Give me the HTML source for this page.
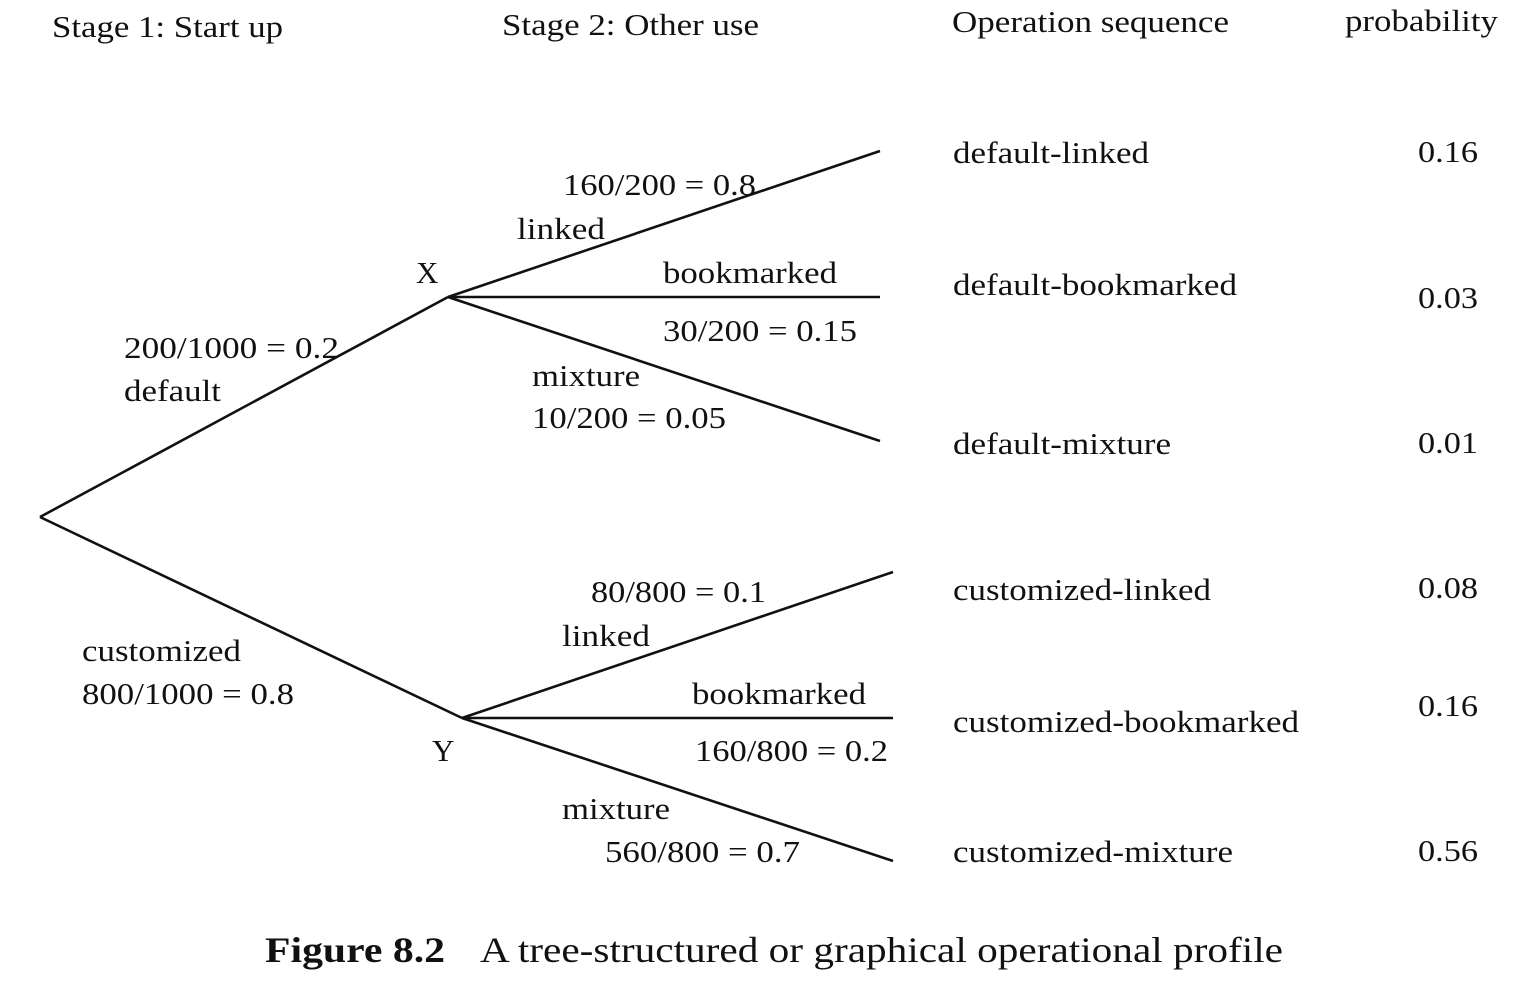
<!DOCTYPE html>
<html><head><meta charset="utf-8"><style>
html,body{margin:0;padding:0;background:#fff;}
svg{display:block;}
text{font-family:"Liberation Serif",serif;font-size:31px;fill:#111;}
</style></head><body>
<svg id="chart" width="1518" height="986" viewBox="0 0 1518 986">
<g id="headers">
<text x="52" y="37" textLength="231" lengthAdjust="spacingAndGlyphs">Stage 1: Start up</text>
<text x="502" y="35" textLength="257" lengthAdjust="spacingAndGlyphs">Stage 2: Other use</text>
<text x="952" y="32" textLength="277" lengthAdjust="spacingAndGlyphs">Operation sequence</text>
<text x="1345" y="31" textLength="153" lengthAdjust="spacingAndGlyphs">probability</text>
</g>
<g id="edges"></g>
<g id="labels">
<text x="416" y="283">X</text>
<text x="432" y="761">Y</text>
<text x="124" y="358" textLength="215" lengthAdjust="spacingAndGlyphs">200/1000 = 0.2</text>
<text x="124" y="401" textLength="97" lengthAdjust="spacingAndGlyphs">default</text>
<text x="82" y="661" textLength="159" lengthAdjust="spacingAndGlyphs">customized</text>
<text x="82" y="704" textLength="212" lengthAdjust="spacingAndGlyphs">800/1000 = 0.8</text>
<text x="563" y="195" textLength="193" lengthAdjust="spacingAndGlyphs">160/200 = 0.8</text>
<text x="517" y="239" textLength="88" lengthAdjust="spacingAndGlyphs">linked</text>
<text x="663" y="283" textLength="174" lengthAdjust="spacingAndGlyphs">bookmarked</text>
<text x="663" y="341" textLength="194" lengthAdjust="spacingAndGlyphs">30/200 = 0.15</text>
<text x="532" y="386" textLength="108" lengthAdjust="spacingAndGlyphs">mixture</text>
<text x="532" y="428" textLength="194" lengthAdjust="spacingAndGlyphs">10/200 = 0.05</text>
<text x="591" y="602" textLength="175" lengthAdjust="spacingAndGlyphs">80/800 = 0.1</text>
<text x="562" y="646" textLength="88" lengthAdjust="spacingAndGlyphs">linked</text>
<text x="692" y="704" textLength="174" lengthAdjust="spacingAndGlyphs">bookmarked</text>
<text x="695" y="761" textLength="193" lengthAdjust="spacingAndGlyphs">160/800 = 0.2</text>
<text x="562" y="819" textLength="108" lengthAdjust="spacingAndGlyphs">mixture</text>
<text x="605" y="862" textLength="195" lengthAdjust="spacingAndGlyphs">560/800 = 0.7</text>
</g>
<g id="leaves"></g>
<g>
<text x="265" y="962" font-weight="bold" style="font-size:36px" textLength="180" lengthAdjust="spacingAndGlyphs">Figure 8.2</text>
<text x="480" y="962" style="font-size:36px" textLength="803" lengthAdjust="spacingAndGlyphs">A tree-structured or graphical operational profile</text>
</g>
</svg>
<script>
const sequences = ["default-linked","default-bookmarked","default-mixture","customized-linked","customized-bookmarked","customized-mixture"];
const probabilities = ["0.16","0.03","0.01","0.08","0.16","0.56"];
const seqLengths = [196, 284, 218, 258, 346, 280];
// layout (not data)
const root = [40, 517];
const mids = [[448, 297], [462, 718]];
const leafEnds = [[880,151],[880,297],[880,441],[893,572],[893,718],[893,861]];
const seqY = [163, 295, 454, 600, 732, 862];
const probY = [162, 308, 453, 598, 716, 861];
const NS = "http://www.w3.org/2000/svg";
const edges = document.getElementById('edges');
const leaves = document.getElementById('leaves');
function line(a, b, name) {
  const l = document.createElementNS(NS, 'line');
  l.setAttribute('x1', a[0]); l.setAttribute('y1', a[1]);
  l.setAttribute('x2', b[0]); l.setAttribute('y2', b[1]);
  l.setAttribute('stroke', '#111'); l.setAttribute('stroke-width', '2.6');
  
  
  edges.appendChild(l);
}
line(root, mids[0], 'edge-default');
line(root, mids[1], 'edge-customized');
for (let i = 0; i < sequences.length; i++) {
  line(mids[Math.floor(i / 3)], leafEnds[i], 'edge-' + sequences[i]);
  const t = document.createElementNS(NS, 'text');
  t.setAttribute('x', 953); t.setAttribute('y', seqY[i]);
  t.setAttribute('textLength', seqLengths[i]);
  t.setAttribute('lengthAdjust', 'spacingAndGlyphs');
  t.textContent = sequences[i];
  
  
  leaves.appendChild(t);
  const p = document.createElementNS(NS, 'text');
  p.setAttribute('x', 1418); p.setAttribute('y', probY[i]);
  p.setAttribute('textLength', 60);
  p.setAttribute('lengthAdjust', 'spacingAndGlyphs');
  p.textContent = probabilities[i];
  
  
  leaves.appendChild(p);
}
</script>
</body></html>
